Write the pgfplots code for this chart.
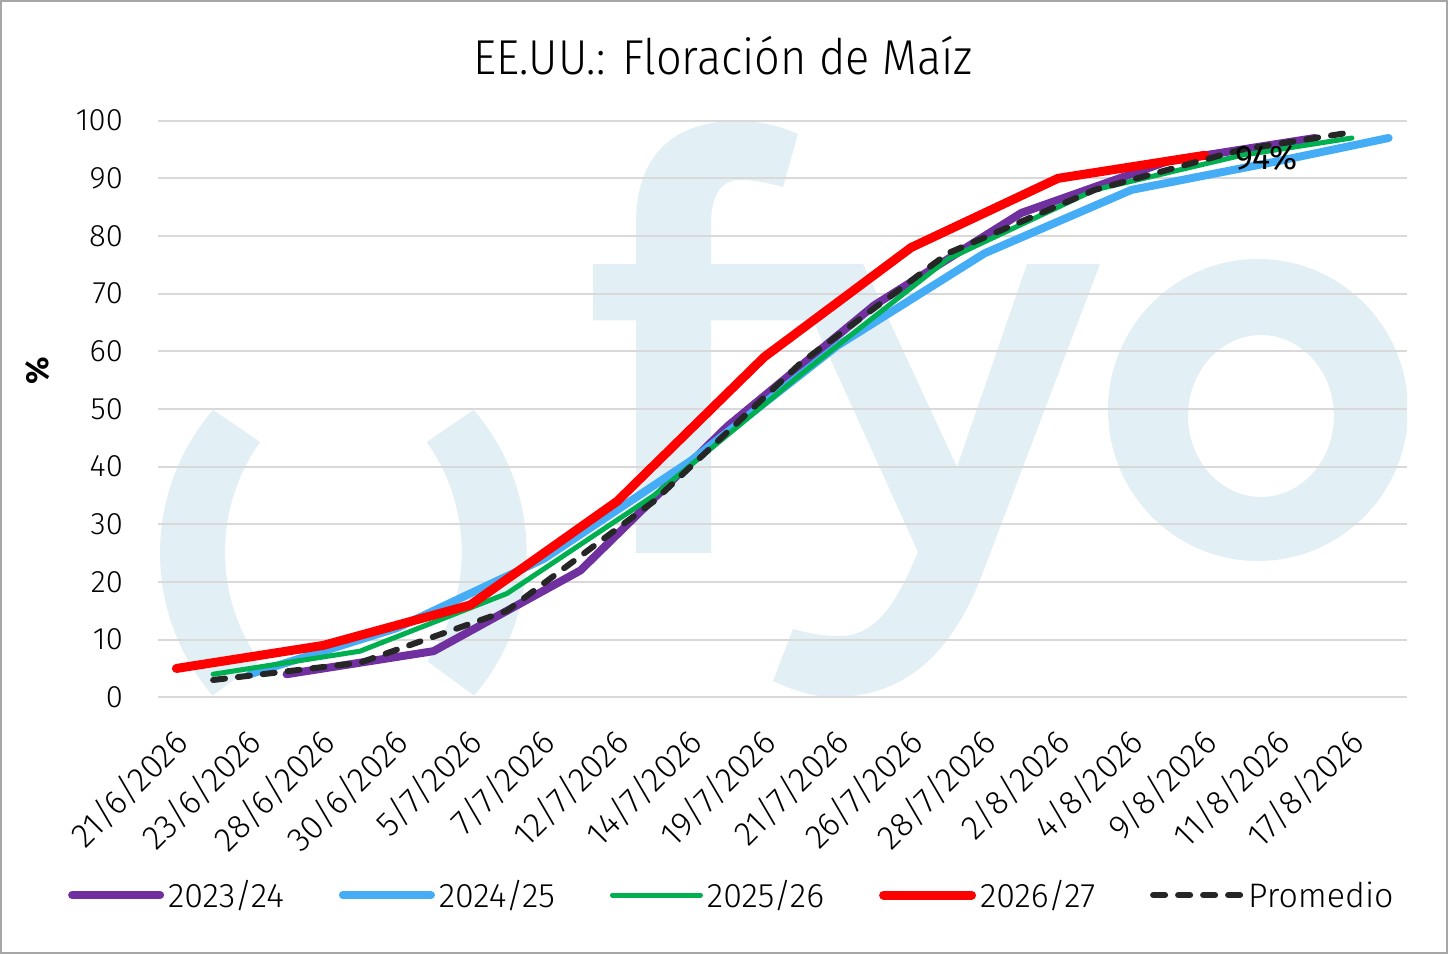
\documentclass[border=0pt]{standalone}
\usepackage{pgfplots}
\pgfplotsset{compat=1.18}
\usepackage{fontspec}
\setmainfont{Fira Sans Light}
\newfontfamily\regfont{Fira Sans}
\definecolor{c23}{RGB}{112,48,160}
\definecolor{c24}{RGB}{69,172,246}
\definecolor{c25}{RGB}{0,176,80}
\definecolor{c26}{RGB}{255,0,0}
\definecolor{cavg}{RGB}{38,38,38}
\definecolor{wm}{RGB}{226,240,245}
\definecolor{gridc}{RGB}{217,217,217}
\definecolor{framec}{RGB}{166,166,166}
\begin{document}
\begin{tikzpicture}[x=1bp,y=1bp]
\useasboundingbox (0,0) rectangle (1448,954);
\fill[white] (0,0) rectangle (1448,954);
\draw[framec, line width=2bp] (1,1) rectangle (1447,953);
% watermark logo
\begin{scope}
\clip (158,256.7) rectangle (1407,833.3);
\fill[wm] ([shift={(379.4,401)}]139.3:219.4bp) arc[start angle=139.3,end angle=220.5,radius=219.4bp] -- ([shift={(415.4,402)}]215:190.4bp) arc[start angle=215,end angle=144.7,radius=190.4bp] -- cycle;
\fill[wm] ([shift={(307.3,401)}]40.7:219.4bp) arc[start angle=40.7,end angle=-40.5,radius=219.4bp] -- ([shift={(271.3,402)}]-35:190.4bp) arc[start angle=-35,end angle=35.3,radius=190.4bp] -- cycle;
\fill[wm] (636,401) -- (636,633.5) -- (593,633.5) -- (593,690) -- (636,690) -- (636,731)
  .. controls (636,800) and (675,833) .. (737,833)
  .. controls (760,833) and (780,828) .. (798,820) -- (783,767)
  .. controls (768,771) and (755,774) .. (740,774)
  .. controls (722,774) and (711,760) .. (711,731) -- (711,690) -- (863,690) -- (957,487) -- (1027,690) -- (1100,690) -- (980,374)
  .. controls (950,300) and (905,257) .. (833,257)
  .. controls (812,257) and (790,265) .. (773,273) -- (793,325)
  .. controls (810,320) and (825,318) .. (840,318)
  .. controls (880,318) and (900,360) .. (918,402) -- (813,633.5) -- (711,633.5) -- (711,401) -- cycle;
\fill[wm, even odd rule] (1258,544) ellipse[x radius=150bp, y radius=151bp] (1261,538) ellipse[x radius=73bp, y radius=81bp];
\end{scope}
\begin{axis}[
  at={(158bp,256.7bp)}, anchor=south west,
  scale only axis, width=1249bp, height=576.6bp,
  xmin=-0.5, xmax=33.5, ymin=0, ymax=100,
  axis line style={draw=none},
  major tick length=0pt,
  no markers,
  ytick={0,10,...,100},
  ymajorgrids, grid style={draw=gridc, line width=2bp},
  xtick={0.5,2.5,...,32.5},
  xticklabels={21/6/2026,23/6/2026,28/6/2026,30/6/2026,5/7/2026,7/7/2026,12/7/2026,14/7/2026,19/7/2026,21/7/2026,26/7/2026,28/7/2026,2/8/2026,4/8/2026,9/8/2026,11/8/2026,17/8/2026},
  xticklabel style={xshift=-13bp, rotate=45, anchor=east, inner sep=0pt, font=\fontsize{34bp}{36bp}\selectfont},
  xticklabel shift=39bp,
  yticklabel style={inner sep=0pt, font=\fontsize{31bp}{32bp}\selectfont},
  yticklabel shift=35bp,
  /pgf/number format/assume math mode=true,
  ylabel={\%},
  ylabel style={at={(axis description cs:-0.0961,0.566)}, anchor=center, font=\regfont\bfseries\fontsize{32bp}{34bp}\selectfont},
  legend style={at={(axis description cs:-0.0745,-0.343)}, anchor=west, draw=none, fill=none, legend columns=5,
    font=\fontsize{34bp}{36bp}\selectfont, nodes={inner sep=0pt},
    /tikz/every odd column/.append style={column sep=4bp},
    /tikz/every even column/.append style={column sep=55bp}},
  legend cell align=left,
  legend image code/.code={\draw[#1, line cap=round] (0bp,0bp) -- (88bp,0bp);},
]
\addplot[c23, line width=8bp, line join=round, line cap=round] coordinates {(3,4) (7,8) (11,22) (15,47) (19,68) (23,84) (27,93) (31,97)};
\addlegendentry{2023/24}
\addplot[c24, line width=8bp, line join=round, line cap=round] coordinates {(2,4) (6,12) (10,24) (14,41) (18,61) (22,77) (26,88) (30,93) (33,97)};
\addlegendentry{2024/25}
\addplot[c25, line width=5bp, line join=round, line cap=round] coordinates {(1,4) (5,8) (9,18) (13,35) (17,56) (21,76) (25,88) (29,94) (32,97)};
\addlegendentry{2025/26}
\addplot[c26, line width=9bp, line join=round, line cap=round] coordinates {(0,5) (4,9) (8,16) (12,34) (16,59) (20,78) (24,90) (28,94)};
\addlegendentry{2026/27}
\addplot[cavg, line width=6bp, line join=round, line cap=round, dash pattern=on 12bp off 13bp] coordinates {(1,3) (5,6) (9,15) (13,34) (17,58) (21,77) (25,88) (29,95) (32,98)};
\addlegendentry{Promedio}
\node[anchor=west, inner sep=0pt, font=\regfont\fontsize{34bp}{36bp}\selectfont, xshift=30bp, yshift=-3bp] at (axis cs:28,94) {94\%};
\end{axis}
\node[anchor=base, inner sep=0pt, font=\fontsize{49bp}{52bp}\selectfont] at (723,879) {\scalebox{0.92}[1]{EE.UU.: Floración de Maíz}};
\end{tikzpicture}
\end{document}
